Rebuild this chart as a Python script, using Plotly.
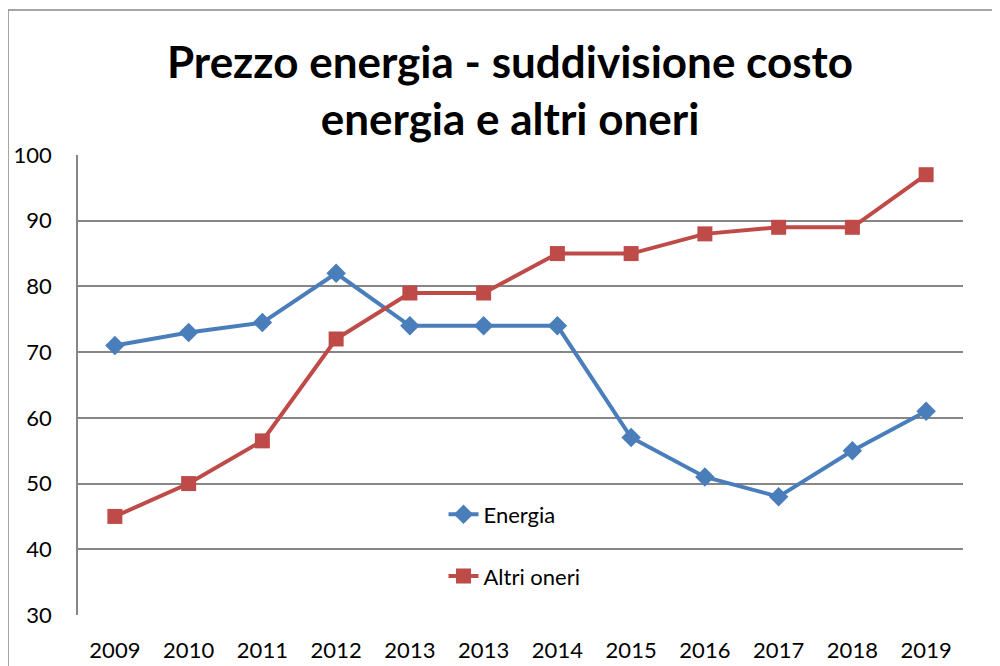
import plotly.graph_objects as go

years = ["2009", "2010", "2011", "2012", "2013", "2013", "2014", "2015", "2016", "2017", "2018", "2019"]
energia = [71, 73, 74.5, 82, 74, 74, 74, 57, 51, 48, 55, 61]
altri_oneri = [45, 50, 56.5, 72, 79, 79, 85, 85, 88, 89, 89, 97]
y_ticks = [30, 40, 50, 60, 70, 80, 90, 100]

idx = list(range(len(years)))
FONT = "Lato"

fig = go.Figure()
fig.add_trace(go.Scatter(
    x=idx, y=energia, name="Energia", mode="lines+markers",
    line=dict(color="#4A7EBB", width=4),
    marker=dict(symbol="diamond", size=15, color="#4A7EBB"),
    legendgroup="a",
))
fig.add_trace(go.Scatter(
    x=idx, y=altri_oneri, name="Altri oneri", mode="lines+markers",
    line=dict(color="#BE4B48", width=4),
    marker=dict(symbol="square", size=15, color="#BE4B48"),
    legendgroup="b",
))

fig.update_layout(
    width=1000, height=666,
    margin=dict(l=70, r=45, t=147, b=59, autoexpand=False),
    paper_bgcolor="white", plot_bgcolor="white",
    font=dict(family=FONT, size=22, color="black"),
    title=dict(
        text="<b>Prezzo energia - suddivisione costo<br>energia e altri oneri</b>",
        x=0.502, xanchor="center", y=1 - 70 / 666, yanchor="middle",
        font=dict(family=FONT, size=44, color="black"),
    ),
    xaxis=dict(
        range=[-0.5, len(years) - 0.5], automargin=False,
        tickmode="array", tickvals=idx, ticktext=years,
        showgrid=False, zeroline=False, showline=False,
        ticks="", ticklen=0, ticklabelstandoff=20,
        tickfont=dict(family=FONT, size=22, color="black"),
    ),
    yaxis=dict(
        range=[30, 100], tickmode="array", tickvals=y_ticks, automargin=False,
        showgrid=True, gridcolor="#868686", gridwidth=1.5,
        zeroline=False, showline=True, linecolor="#868686", linewidth=1.5,
        ticks="", tickfont=dict(family=FONT, size=22, color="black"),
        ticklabelstandoff=20,
    ),
    showlegend=True,
    legend=dict(
        x=0.413, y=0.264, xanchor="left", yanchor="top",
        bgcolor="rgba(0,0,0,0)", tracegroupgap=30,
        font=dict(family=FONT, size=22, color="black"),
    ),
    shapes=[dict(
        type="rect", xref="paper", yref="paper",
        x0=(8 - 78) / 885, x1=1.2, y0=-0.3, y1=(615 - 10) / 460,
        line=dict(color="#888888", width=1.5), fillcolor="rgba(0,0,0,0)",
        layer="below",
    )],
)

fig.write_html("out.html")
